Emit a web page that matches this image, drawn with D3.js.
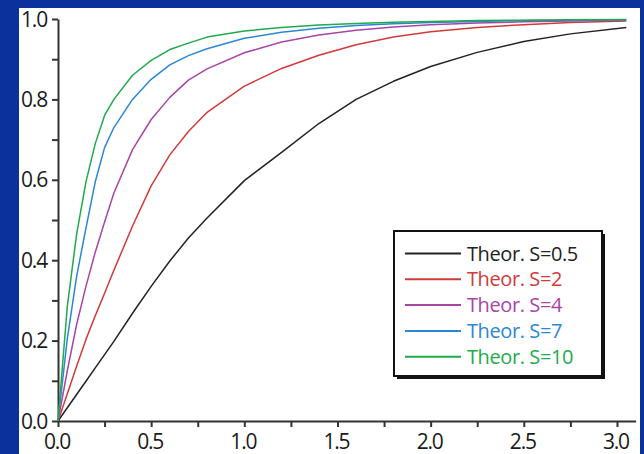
<!DOCTYPE html>
<html><head><meta charset="utf-8">
<script src="https://cdn.jsdelivr.net/npm/d3@7"></script>
<style>
html,body{margin:0;padding:0;background:#0a319c;}
svg{display:block;}
</style></head>
<body>
<svg id="chart" width="644" height="454"></svg>
<script>
// ---- data ----
const tValues = [0, 0.05, 0.1, 0.15, 0.2, 0.25, 0.3, 0.4, 0.5, 0.6, 0.7, 0.8, 1.0, 1.2, 1.4, 1.6, 1.8, 2.0, 2.25, 2.5, 2.75, 3.05];
const seriesNames = ["Theor. S=0.5", "Theor. S=2", "Theor. S=4", "Theor. S=7", "Theor. S=10"];
const s05 = [0, 0.033, 0.066, 0.099, 0.132, 0.165, 0.198, 0.268, 0.335, 0.398, 0.455, 0.505, 0.598, 0.668, 0.74, 0.80, 0.845, 0.882, 0.917, 0.944, 0.963, 0.979];
const s2  = [0, 0.068, 0.136, 0.203, 0.262, 0.318, 0.375, 0.485, 0.585, 0.662, 0.72, 0.768, 0.833, 0.877, 0.91, 0.936, 0.955, 0.968, 0.979, 0.986, 0.991, 0.995];
const s4  = [0, 0.125, 0.24, 0.335, 0.42, 0.495, 0.567, 0.675, 0.75, 0.805, 0.848, 0.876, 0.916, 0.943, 0.96, 0.972, 0.98, 0.986, 0.99, 0.993, 0.995, 0.997];
const s7  = [0, 0.205, 0.36, 0.48, 0.595, 0.68, 0.73, 0.80, 0.85, 0.886, 0.909, 0.926, 0.952, 0.967, 0.977, 0.984, 0.988, 0.991, 0.994, 0.996, 0.997, 0.998];
const s10 = [0, 0.285, 0.465, 0.595, 0.69, 0.76, 0.80, 0.86, 0.897, 0.924, 0.94, 0.955, 0.97, 0.979, 0.985, 0.989, 0.992, 0.994, 0.996, 0.997, 0.998, 0.999];
const seriesValues = [s05, s2, s4, s7, s10];
const seriesColors = ["#222222", "#d13a3a", "#a944a9", "#2b86d6", "#1faa4c"];
const xTickLabels = [0, 0.5, 1.0, 1.5, 2.0, 2.5, 3.0];
const yTickLabels = [0, 0.2, 0.4, 0.6, 0.8, 1.0];

// ---- drawing ----
const svg = d3.select("#chart");
svg.append("rect").attr("x", 19).attr("y", 8).attr("width", 621).attr("height", 446).attr("fill", "#ffffff");

const x = d3.scaleLinear().domain([0, 3.1]).range([58, 635.6]);
const y = d3.scaleLinear().domain([0, 1]).range([421, 19]);

const font = "'Open Sans', sans-serif";

// axes
const xAxis = d3.axisBottom(x).tickValues(d3.range(0, 3.01, 0.25)).tickSize(6).tickSizeOuter(0)
  .tickFormat(d => "");
const gx = svg.append("g").attr("transform", "translate(0,421)").call(xAxis);
gx.select(".domain").attr("stroke", "#333").attr("stroke-width", 2);
gx.selectAll(".tick line").attr("stroke", "#333").attr("stroke-width", 2);

const yAxis = d3.axisLeft(y).tickValues(d3.range(0, 1.001, 0.1)).tickSize(6).tickSizeOuter(0)
  .tickFormat(d => "");
const gy = svg.append("g").attr("transform", "translate(58,0)").call(yAxis);
gy.select(".domain").attr("stroke", "#333").attr("stroke-width", 2);
gy.selectAll(".tick line").attr("stroke", "#333").attr("stroke-width", 2);

// tick labels
svg.append("g").selectAll("text").data(xTickLabels).join("text")
  .attr("x", d => x(d) - 1).attr("y", 449)
  .attr("text-anchor", "middle")
  .attr("font-family", font).attr("font-size", 21).attr("letter-spacing", -1.2)
  .attr("fill", "#1a1a1a")
  .text(d => d3.format(".1f")(d));

svg.append("g").selectAll("text").data(yTickLabels).join("text")
  .attr("x", 47).attr("y", d => y(d) + 7.5)
  .attr("text-anchor", "end")
  .attr("font-family", font).attr("font-size", 21).attr("letter-spacing", -1.2)
  .attr("fill", "#1a1a1a")
  .text(d => d3.format(".1f")(d));

// curves
const line = d3.line().x((d, i) => x(tValues[i])).y(d => y(d));
svg.append("g").selectAll("path").data(seriesValues).join("path")
  .attr("d", d => line(d))
  .attr("fill", "none")
  .attr("stroke", (d, i) => seriesColors[i])
  .attr("stroke-width", 1.5)
  .attr("stroke-linejoin", "round");

// legend
const lg = svg.append("g");
lg.append("rect").attr("x", 397).attr("y", 234).attr("width", 208).attr("height", 145).attr("fill", "#111");
lg.append("rect").attr("x", 394).attr("y", 231).attr("width", 208).attr("height", 145)
  .attr("fill", "#fff").attr("stroke", "#111").attr("stroke-width", 2);
const rows = lg.selectAll("g.row").data(seriesNames).join("g").attr("class", "row")
  .attr("transform", (d, i) => `translate(0,${253.5 + i * 25.8})`);
rows.append("line").attr("x1", 405).attr("x2", 461).attr("y1", 0).attr("y2", 0)
  .attr("stroke", (d, i) => seriesColors[i]).attr("stroke-width", 2);
rows.append("text").attr("x", 467).attr("y", 7)
  .attr("font-family", font).attr("font-size", 20).attr("letter-spacing", -0.4)
  .attr("fill", (d, i) => seriesColors[i])
  .text(d => d);
</script>
</body></html>
